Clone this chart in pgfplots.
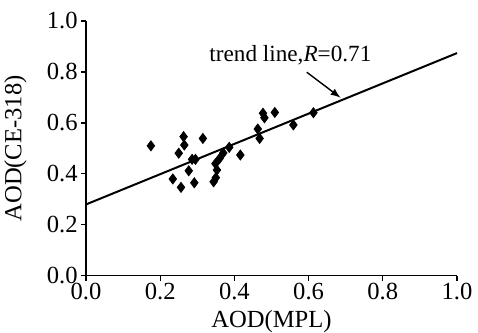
\documentclass[border=0pt]{standalone}
\usepackage{fontspec}
\setmainfont{Liberation Serif}
\usepackage{pgfplots}
\pgfplotsset{compat=1.18}
\begin{document}
\fontsize{12}{14}\selectfont
\begin{tikzpicture}
\begin{axis}[
  scale only axis,
  width=185.5pt, height=127.4pt,
  xmin=0, xmax=1, ymin=0, ymax=1,
  axis x line*=bottom, axis y line*=left,
  axis line style={line width=0.7pt},
  xtick={0,0.2,...,1.0}, ytick={0,0.2,...,1.0},
  tick align=outside, major tick length=2.5pt,
  tick style={line width=0.6pt, black},
  /pgf/number format/assume math mode=true,
  /pgf/number format/fixed, /pgf/number format/fixed zerofill,
  /pgf/number format/precision=1,
  ticklabel style={font=\fontsize{12.3}{14}\selectfont},
  xticklabel style={inner sep=1.2pt},
  yticklabel style={inner sep=1.5pt},
  xlabel={AOD(MPL)}, ylabel={AOD(CE-318)},
  x label style={at={(axis description cs:0.5,-0.18)}, anchor=center, inner sep=0pt},
  y label style={at={(axis description cs:-0.19,0.5)}, anchor=center, inner sep=0pt},
  label style={font=\fontsize{12.3}{14}\selectfont},
  xtick pos=bottom, ytick pos=left,
  clip=false,
]
\addplot[only marks, mark=diamond*, mark size=2.5pt, black] coordinates {
(0.175,0.510)
(0.263,0.546)
(0.265,0.513)
(0.250,0.481)
(0.315,0.539)
(0.286,0.457)
(0.295,0.457)
(0.277,0.412)
(0.234,0.380)
(0.256,0.347)
(0.292,0.365)
(0.344,0.369)
(0.350,0.385)
(0.353,0.415)
(0.349,0.440)
(0.360,0.460)
(0.370,0.482)
(0.386,0.504)
(0.416,0.474)
(0.463,0.576)
(0.468,0.539)
(0.477,0.638)
(0.481,0.620)
(0.509,0.641)
(0.559,0.592)
(0.613,0.640)
};
\addplot[black, line width=1pt] coordinates {(0,0.280) (1,0.874)};
\node[font=\fontsize{11.6}{14}\selectfont] at (axis cs:0.551,0.867) {trend line,\textit{R}=0.71};
\draw[-latex, line width=0.7pt] (axis cs:0.595,0.799) -- (axis cs:0.686,0.699);
\path (rel axis cs:0,0) ++(-43pt,-28.2pt) coordinate (bl);
\path (rel axis cs:1,1) ++(10.5pt,10.5pt) coordinate (tr);
\path (bl) rectangle (tr);
\end{axis}
\end{tikzpicture}
\end{document}
